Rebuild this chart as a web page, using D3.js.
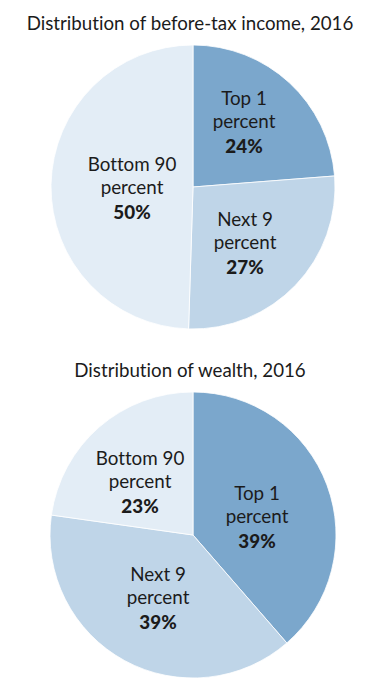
<!DOCTYPE html>
<html>
<head>
<meta charset="utf-8">
<script src="https://cdn.jsdelivr.net/npm/d3@7"></script>
<style>
  html, body { margin: 0; padding: 0; background: #ffffff; }
  svg { display: block; }
  text { font-family: Lato, "Open Sans", sans-serif; fill: #1b1b1b; font-variant-ligatures: none; font-feature-settings: "liga" 0, "clig" 0; }
</style>
</head>
<body>
<svg id="chart" width="380" height="687"></svg>
<script>
// ---- Data ----
const titles = ["Distribution of before-tax income, 2016", "Distribution of wealth, 2016"];
const groups = ["Top 1", "Next 9", "Bottom 90"];
const incomeShares = [24, 27, 50];
const wealthShares = [39, 39, 23];

// ---- Layout / style ----
const W = 380, H = 687;
const colors = ["#7ba7cc", "#bfd5e8", "#e3edf6"];
const pies = [
  { title: titles[0], values: incomeShares, cx: 193, cy: 187, r: 142, titleY: 30,
    labelOffsets: [[51, -59], [52, 62], [-61, 7]] },
  { title: titles[1], values: wealthShares, cx: 193, cy: 535, r: 143, titleY: 377,
    labelOffsets: [[64, -12], [-35, 69], [-53, -47]] }
];

const svg = d3.select("#chart");
const pie = d3.pie().sort(null).value(d => d.value);

pies.forEach(p => {
  const data = groups.map((g, i) => ({ group: g, value: p.values[i], i }));
  const arcs = pie(data);
  const arc = d3.arc().innerRadius(0).outerRadius(p.r);

  svg.append("text")
    .attr("text-anchor", "middle")
    .attr("transform", `translate(${W / 2},${p.titleY}) scale(0.96,1)`)
    .style("font-size", "19.5px")
    .text(p.title);

  const g = svg.append("g").attr("transform", `translate(${p.cx},${p.cy})`);
  g.selectAll("path")
    .data(arcs)
    .join("path")
    .attr("d", arc)
    .attr("fill", d => colors[d.data.i])
    .attr("stroke", "#ffffff")
    .attr("stroke-width", 0.8);

  const lbl = g.selectAll("text.lbl")
    .data(arcs)
    .join("text")
    .attr("class", "lbl")
    .attr("text-anchor", "middle")
    .attr("transform", d => {
      const o = p.labelOffsets[d.data.i];
      return `translate(${o[0]},${o[1]}) scale(0.99,1)`;
    })
    .style("font-size", "19px");

  const words = d => {
    const parts = d.data.group.split(" ");
    return [parts[0] + " " + parts[1], "percent"];
  };
  lbl.append("tspan").attr("x", 0).attr("y", -23).text(d => words(d)[0]);
  lbl.append("tspan").attr("x", 0).attr("y", 0).text(d => words(d)[1]);
  lbl.append("tspan").attr("x", 0).attr("y", 25)
    .style("font-weight", "900")
    .text(d => d.data.value + "%");
});
</script>
</body>
</html>
